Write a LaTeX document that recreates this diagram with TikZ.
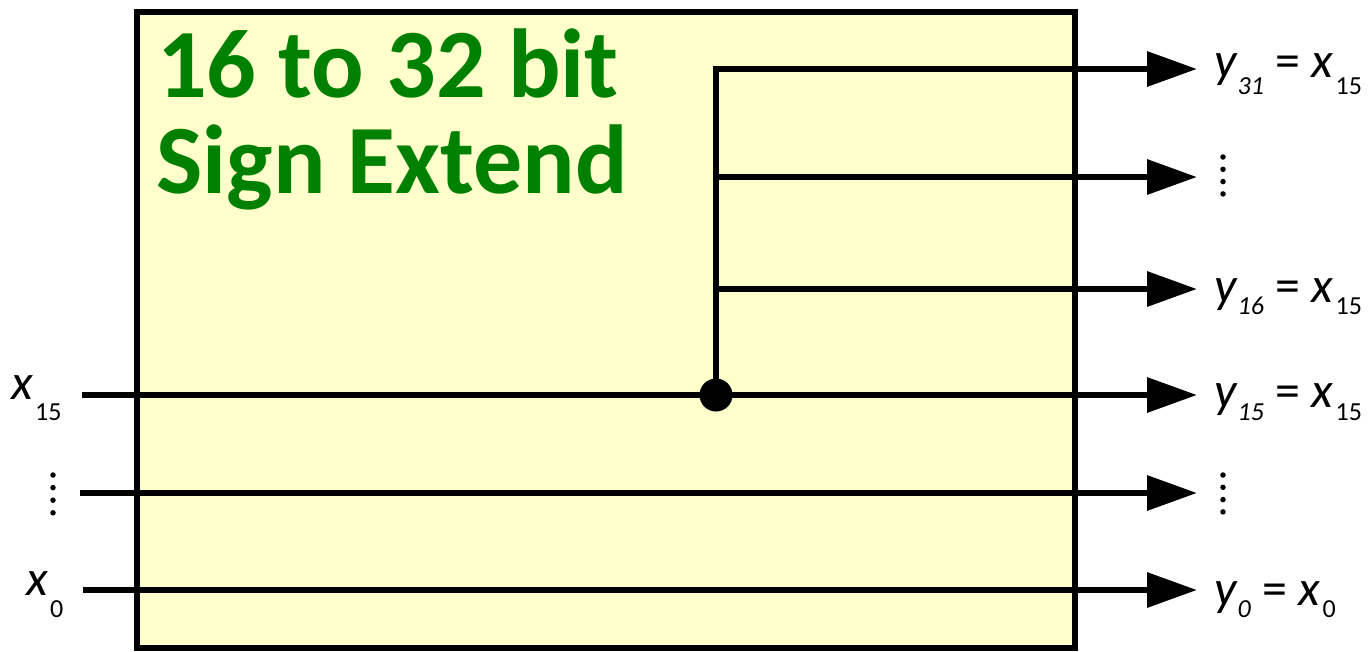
\documentclass[tikz,border=0pt]{standalone}
\usepackage{fontspec}
\setmainfont{Carlito}
\usetikzlibrary{arrows.meta}
\definecolor{boxfill}{RGB}{255,255,204}
\definecolor{titlegreen}{RGB}{0,128,0}
\newcommand{\subs}[2]{\raisebox{-#1pt}{\fontsize{26}{26}\selectfont #2}}
\begin{document}
\begin{tikzpicture}[x=1pt,y=-1pt,
  wire/.style={line width=6.5pt},
  arr/.style={wire,-{Triangle[length=50pt,width=34pt]}},
  lab/.style={inner sep=0pt,anchor=base west,font=\fontsize{50}{50}\selectfont},
  ttl/.style={inner sep=0pt,anchor=base west,text=titlegreen,font=\fontsize{98}{98}\selectfont\bfseries},
  vdot/.style={circle,fill=black,inner sep=0pt,minimum size=5.5pt}]
\useasboundingbox (0,0) rectangle (1368,651);
% box
\node[draw=black,fill=boxfill,line width=6.5pt,inner sep=0pt,minimum width=938pt,minimum height=636pt] (box) at (606,330) {};
% title
\node[ttl] (t1) at (157,97) {16 to 32 bit};
\node[ttl] (t2) at (156,193) {Sign Extend};
% coordinates
\coordinate (in15) at (82,395);
\coordinate (indots) at (80,493);
\coordinate (in0) at (83,590);
\coordinate (o31) at (1197,69);
\coordinate (odots) at (1197,177);
\coordinate (o16) at (1197,289);
\coordinate (o15) at (1197,395);
\coordinate (odots2) at (1197,493);
\coordinate (o0) at (1197,590);
\coordinate (v31) at (716,69);
\coordinate (vdots) at (716,177);
\coordinate (v16) at (716,289);
% wires
\draw[wire] (in15) -- (o15 -| box.east);
\draw[arr] (in15 -| box.east) -- (o15);
\draw[arr] (indots) -- (odots2);
\draw[arr] (in0) -- (o0);
\draw[wire,line cap=rect] (716,395) -- (v31);
\draw[arr] (v31) -- (o31);
\draw[arr] (vdots) -- (odots);
\draw[arr] (v16) -- (o16);
\node[circle,fill=black,inner sep=0pt,minimum size=33pt] (j) at (716,395) {};
% right labels
\node[lab] (l31) at (1214,77) {\textit{y}\subs{17}{\textit{31}} = \textit{x}\kern2pt\subs{17}{15}};
\node[lab] (l16) at (1214,302) {\textit{y}\subs{12}{\textit{16}} = \textit{x}\kern2pt\subs{12}{15}};
\node[lab] (l15) at (1214,407) {\textit{y}\subs{13}{\textit{15}} = \textit{x}\kern2pt\subs{13}{15}};
\node[lab] (l0) at (1214,605) {\textit{y}\subs{12}{\textit{0}} = \textit{x}\kern2pt\subs{12}{0}};
% left labels
\node[lab] (lx15) at (11,399) {\textit{x}\kern2pt\subs{21}{15}};
\node[lab] (lx0) at (26,595) {\textit{x}\kern2pt\subs{22}{0}};
% vertical ellipses
\foreach \i in {0,1,2,3} {
  \node[vdot] (rd\i) at (1223,157+12.3*\i) {};
  \node[vdot] (rb\i) at (1223,475+12.3*\i) {};
  \node[vdot] (ld\i) at (53,475+12.6*\i) {};
}
\end{tikzpicture}
\end{document}
